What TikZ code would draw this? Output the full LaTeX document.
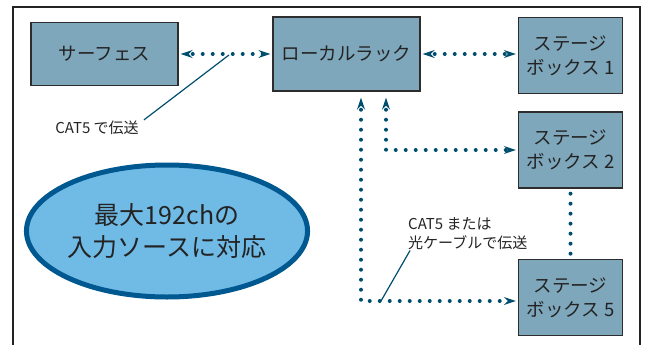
\documentclass[tikz,border=0pt]{standalone}
\usepackage{fontspec}
\setmainfont{Noto Sans CJK JP}
\usetikzlibrary{shapes.geometric, arrows.meta, positioning}
\definecolor{cajafondo}{RGB}{126,167,188}
\definecolor{cajaborde}{RGB}{45,45,45}
\definecolor{globofondo}{RGB}{112,186,230}
\definecolor{globoborde}{RGB}{0,88,145}
\definecolor{punteado}{RGB}{0,78,110}
\definecolor{texto}{RGB}{35,35,35}
\tikzset{
  marco/.style={draw=texto, line width=2.5pt},
  caja/.style={rectangle, draw=cajaborde, fill=cajafondo, line width=1.3pt,
    inner sep=0pt, align=center, text=texto, font=\fontsize{18.5}{24}\selectfont},
  etapa/.style={caja, minimum width=104pt, minimum height=76pt},
  globo/.style={ellipse, draw=globoborde, fill=globofondo, line width=5pt,
    minimum width=256pt, minimum height=132pt, inner sep=0pt, align=center,
    text=texto, font=\fontsize{25}{32}\selectfont},
  etiq/.style={align=left, text=texto, inner sep=1pt, font=\fontsize{15}{19}\selectfont},
  punto/.style={draw=punteado, line width=4pt, line cap=round,
    dash pattern=on 0pt off 10pt, dash phase=5pt},
  enlace/.style={punto, {Stealth[length=12pt, width=8pt, inset=4pt]}-{Stealth[length=12pt, width=8pt, inset=4pt]},
    shorten <=2pt, shorten >=2pt},
  guia/.style={draw=punteado, line width=1.2pt}
}
\begin{document}
\begin{tikzpicture}[x=1pt, y=-1pt]
  \useasboundingbox (0,0) rectangle (650,345);
  \draw[marco] (13,346) -- (13,7) -- (640,7) -- (640,346);
  % equipos
  \node[caja, minimum width=147pt, minimum height=63pt] (surf) at (104.5,54) {サーフェス};
  \node[caja, minimum width=147pt, minimum height=74pt] (rack) at (346.5,54) {ローカルラック};
  \node[etapa] (st1) at (570.5,55.5) {ステージ\\ボックス 1};
  \node[etapa] (st2) at (570.5,150) {ステージ\\ボックス 2};
  \node[etapa] (st5) at (570.5,297.5) {ステージ\\ボックス 5};
  \node[globo] (max) at (167,231) {最大192chの\\入力ソースに対応};
  % notas
  \node[etiq] (cat) at (97,128) {CAT5\ で伝送};
  \node[etiq, anchor=north west] (opt) at (407,216) {CAT5\ または\\光ケーブルで伝送};
  % conexiones
  \draw[enlace] (surf.east) -- (rack.west |- surf.east);
  \draw[enlace] (rack.east) -- (st1.west |- rack.east);
  \draw[enlace, shorten <=6pt] ([xshift=39.5pt]rack.south) |- (st2.west);
  \draw[enlace, shorten <=6pt] ([xshift=14.5pt]rack.south) |- ([yshift=-3.5pt]st5.west);
  \draw[punto] (st2.south) -- (st5.north);
  \coordinate (c1) at (229,55);
  \coordinate (c2) at (381,301);
  \draw[guia] ([xshift=4pt]cat.north east) -- (c1);
  \draw[guia] (c2) -- ([xshift=3pt]opt.south west);
\end{tikzpicture}
\end{document}
